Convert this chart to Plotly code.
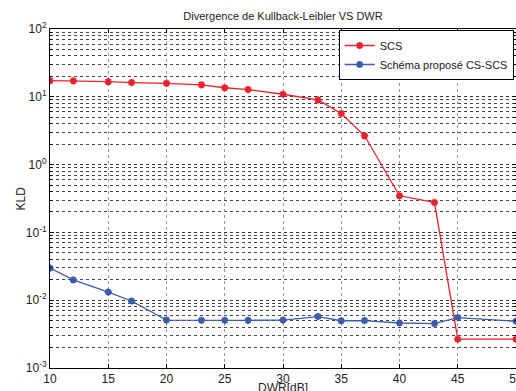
import plotly.graph_objects as go

dwr = [10, 12, 15, 17, 20, 23, 25, 27, 30, 33, 35, 37, 40, 43, 45, 50]
kld_scs = [17.3, 17.2, 16.7, 16.2, 15.8, 15.0, 13.6, 12.8, 10.9, 9.0, 5.66, 2.66,
           0.347, 0.277, 0.00266, 0.00266]
kld_cs_scs = [0.0298, 0.0199, 0.0132, 0.00973, 0.0051, 0.00505, 0.00505, 0.00505,
              0.0051, 0.00573, 0.00498, 0.0050, 0.00461, 0.00452, 0.00555, 0.00489]

x_ticks = [10, 15, 20, 25, 30, 35, 40, 45, 50]
y_major = [1e-3, 1e-2, 1e-1, 1e0, 1e1, 1e2]
y_major_text = ["10<sup>-3</sup>", "10<sup>-2</sup>", "10<sup>-1</sup>",
                "10<sup>0</sup>", "10<sup>1</sup>", "10<sup>2</sup>"]
y_minor = [m * d for d in [1e-3, 1e-2, 1e-1, 1e0, 1e1] for m in range(2, 10)]

red = "#e8222a"
blue = "#3b5ca8"

fig = go.Figure()
fig.add_trace(go.Scatter(
    x=dwr, y=kld_scs, mode="lines+markers", name="SCS",
    line=dict(color=red, width=1.3),
    marker=dict(symbol="asterisk", size=6, color=red, line=dict(color=red, width=2)),
))
fig.add_trace(go.Scatter(
    x=dwr, y=kld_cs_scs, mode="lines+markers", name="Schéma proposé CS-SCS",
    line=dict(color=blue, width=1.3),
    marker=dict(symbol="asterisk", size=6, color=blue, line=dict(color=blue, width=2)),
))

font_family = "Liberation Sans, Arial, Helvetica, sans-serif"

fig.update_layout(
    width=516, height=391,
    margin=dict(l=50, r=0, t=29, b=23),
    paper_bgcolor="white", plot_bgcolor="white",
    font=dict(family=font_family, size=11, color="#222"),
    title=dict(text="Divergence de Kullback-Leibler VS DWR", x=0.5485, xanchor="center",
               y=1 - 16 / 391, yanchor="middle", font=dict(size=11, color="#222")),
    showlegend=True,
    legend=dict(x=0.995, y=0.997, xanchor="right", yanchor="top",
                bgcolor="white", bordercolor="black", borderwidth=1,
                font=dict(size=11, color="#222"), itemwidth=30,
                tracegroupgap=0),
    annotations=[
        dict(text="KLD", xref="paper", yref="paper", x=-30 / 466, y=0.5,
             xanchor="center", yanchor="middle", textangle=-90, showarrow=False,
             font=dict(size=12, color="#222")),
        dict(text="DWR[dB]", xref="paper", yref="paper", x=0.5, y=-(388 - 368) / 339,
             xanchor="center", yanchor="middle", showarrow=False,
             font=dict(size=12, color="#222")),
    ],
)

fig.update_xaxes(
    range=[10, 50], tickmode="array", tickvals=x_ticks, automargin=False,
    ticklabeloverflow="allow",
    showline=True, linecolor="black", linewidth=1, mirror="ticks",
    ticks="inside", ticklen=4, tickcolor="black",
    showgrid=True, gridcolor="#999", griddash="dot", gridwidth=1,
    zeroline=False,
    tickfont=dict(size=12, color="#222"),
)
fig.update_yaxes(
    type="log", range=[-3, 2], tickmode="array", tickvals=y_major, ticktext=y_major_text,
    automargin=False,
    showline=True, linecolor="black", linewidth=1, mirror="ticks",
    ticks="inside", ticklen=4, tickcolor="black",
    showgrid=True, gridcolor="#333", griddash="dot", gridwidth=1,
    zeroline=False,
    tickfont=dict(size=12, color="#222"),
    minor=dict(tickmode="array", tickvals=y_minor, showgrid=True,
               gridcolor="#444", griddash="dot", gridwidth=1,
               ticks="inside", ticklen=2, tickcolor="black"),
)

fig.write_html("out.html")
